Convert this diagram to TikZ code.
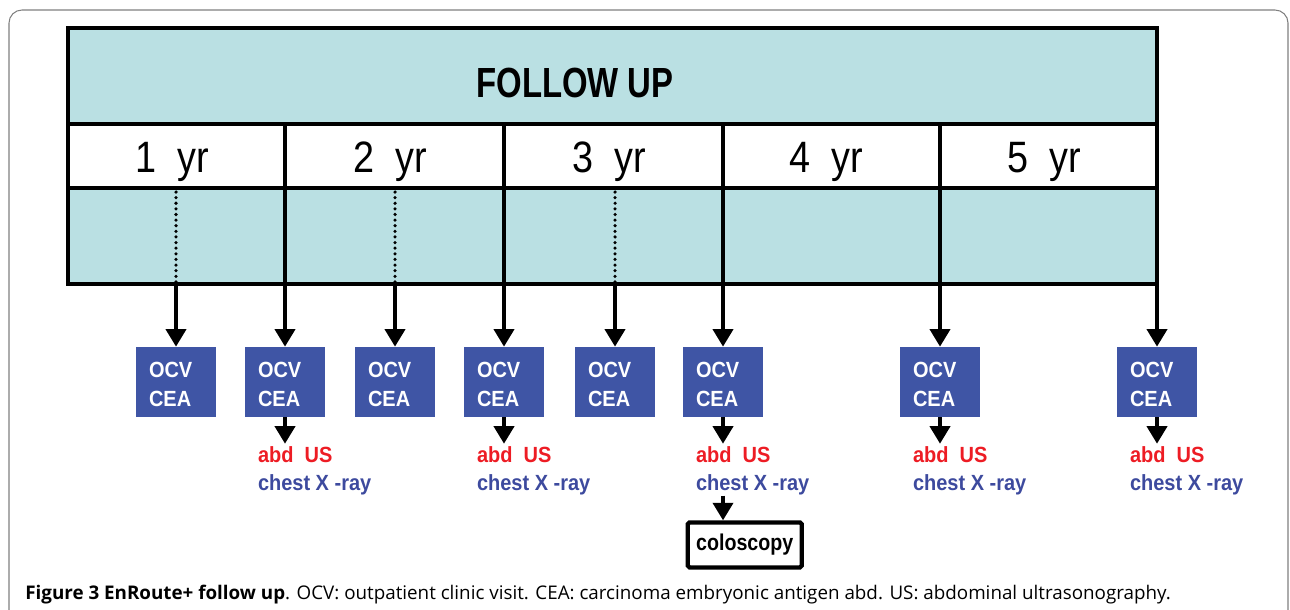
\documentclass[tikz,border=0pt]{standalone}
\usepackage{fontspec}
\setmainfont{Liberation Sans}
\newfontfamily\fufont{Liberation Sans}[FakeStretch=0.86]
\newfontfamily\fubold{Liberation Sans}[FakeStretch=0.91]
\newfontfamily\fuhead{Liberation Sans}[FakeStretch=0.78]
\newfontfamily\capfont{Open Sans}
\usetikzlibrary{arrows.meta,positioning}
\definecolor{fucyan}{RGB}{186,224,227}
\definecolor{fublue}{RGB}{63,85,165}
\definecolor{fured}{RGB}{237,28,36}
\definecolor{futext}{RGB}{61,74,158}
\def \pu {0.02cm}

\begin{document}
\begin{tikzpicture}[x=\pu,y=-\pu,
    grid/.style={line width=1.8pt},
    rim/.style={line width=2.4pt},
    dots/.style={line width=2pt,line cap=round,dash pattern=on 0pt off 3.2pt},
    go/.style={-{Triangle[width=11.4pt,length=10pt]},line width=2.2pt},
    visit/.style={fill=fublue,text=white,inner xsep=0.26cm,inner ysep=0pt,
      text width=1.08cm,minimum height=1.4cm,align=left,
      font=\fubold\bfseries\fontsize{12.5}{16.5}\selectfont},
    exams/.style={inner sep=0pt,align=left,text=futext,
      font=\fubold\bfseries\fontsize{12.5}{16}\selectfont},
    colo/.style={draw,line width=2.4pt,rounded corners=1pt,fill=white,
      minimum width=2.28cm,minimum height=0.9cm,
      font=\fufont\bfseries\fontsize{13}{15}\selectfont},
    yr/.style={anchor=base,font=\fufont\fontsize{25}{25}\selectfont}]
  \useasboundingbox (0,0) rectangle (1290,609);
  \draw[gray,line width=0.6pt,rounded corners=0.26cm] (9,640) -- (9,10) -- (1288,10) -- (1288,640);
  % table
  \fill[fucyan] (68,28) rectangle (1157,124);
  \fill[fucyan] (68,188) rectangle (1157,284);
  \draw[grid] (68,124) -- (1157,124) (68,188) -- (1157,188);
  \foreach \x in {285,504,723,940}
    \draw[grid] (\x,124) -- (\x,284);
  \foreach \x in {176,395,615}
    \draw[dots] (\x,192) -- (\x,282);
  \draw[rim] (68,28) rectangle (1157,284);
  \node[anchor=base,font=\fuhead\bfseries\fontsize{24}{24}\selectfont] (fu) at (575,97) {FOLLOW UP};
  \foreach \x/\n in {172/1,390/2,609/3,826/4,1044/5}
    \node[yr] (y\n) at (\x,172) {\n\ \ yr};
  % visits
  \foreach \x [count=\i] in {176,285,395,504,615,723,940,1157} {
    \coordinate (t\i) at (\x,284);
    \node[visit] (v\i) at (\x,382) {\rule{0pt}{12pt}OCV\\CEA};
    \draw[go] (t\i) -- (v\i);
  }
  \foreach \i in {2,4,6,7,8} {
    \node[exams,below right=0.58cm and 0.26cm of v\i.south west] (e\i)
      {\textcolor{fured}{abd\ \ US}\\chest X -ray};
    \draw[go] (v\i.south) -- ([yshift=1.5pt]v\i.south |- e\i.north);
  }
  \node[colo,below right=2.06cm and 0.06cm of v6.south west] (c6) {coloscopy};
  \draw[go] (v6.south |- e6.south) -- (v6.south |- c6.north);
  % caption
  \node[anchor=base west,inner sep=0pt,font=\capfont\fontsize{10.7}{12}\selectfont] (cap) at (25,599)
    {\textbf{Figure 3 EnRoute+ follow up}. OCV: outpatient clinic visit. CEA: carcinoma embryonic antigen abd. US: abdominal ultrasonography.};
\end{tikzpicture}
\end{document}
